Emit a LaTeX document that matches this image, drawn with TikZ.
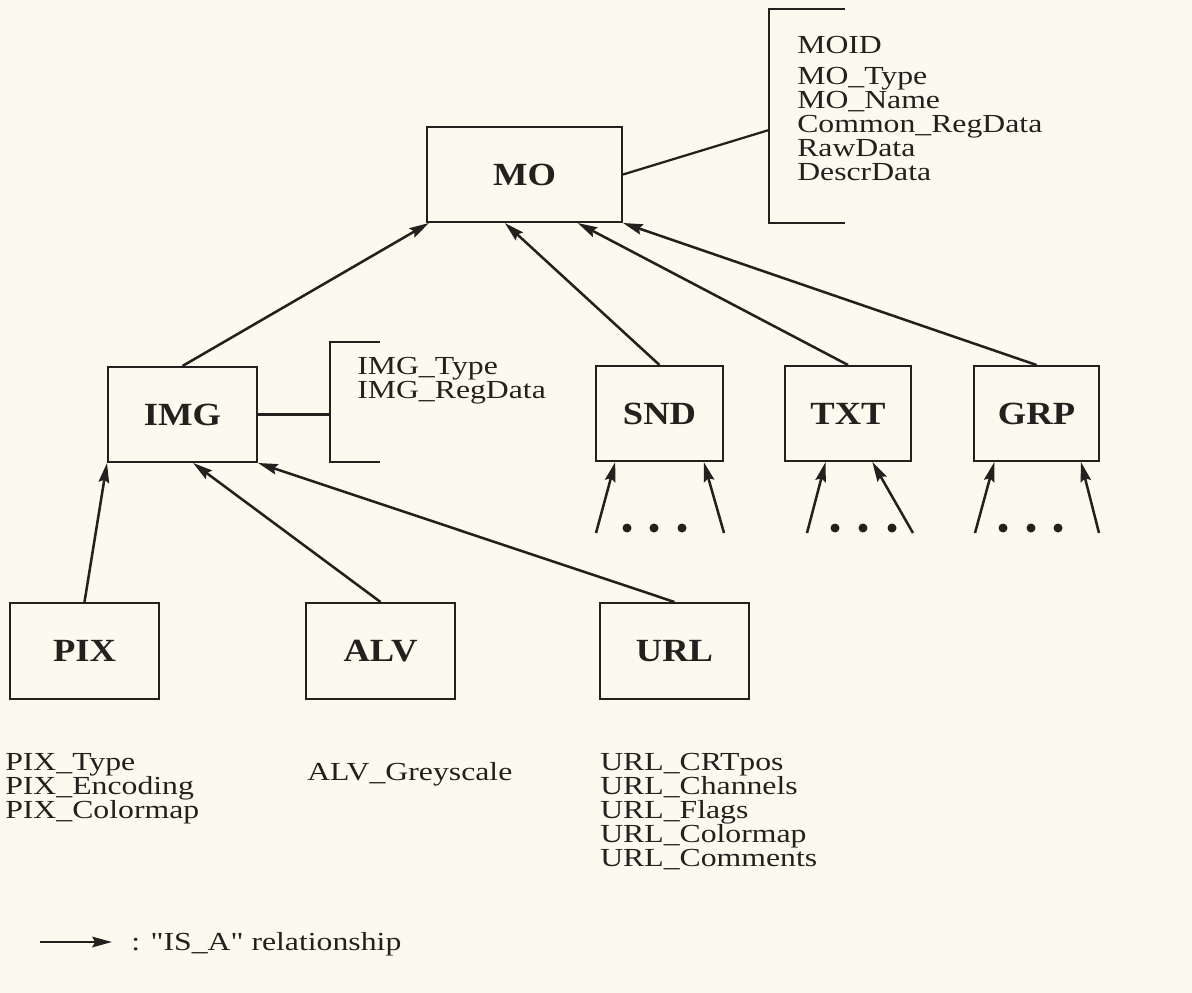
\documentclass[tikz,border=0pt]{standalone}
\usepackage{fontspec}
\setmainfont{Liberation Serif}
\newfontfamily\attrfont[FakeStretch=1.22]{Liberation Serif}
\newfontfamily\labfont[FakeStretch=1.13]{Liberation Serif}
\usetikzlibrary{arrows.meta,calc}
\definecolor{paper}{RGB}{250,250,238}
\definecolor{ink}{RGB}{35,33,30}
\begin{document}
\begin{tikzpicture}[x=0.025cm,y=-0.025cm,
  box/.style={draw=ink, line width=1.4pt, inner sep=0pt, minimum height=2.375cm,
    font=\labfont\bfseries\fontsize{23}{25}\selectfont, text=ink},
  isa/.style={draw=ink, line width=1.8pt, -{Stealth[length=14pt,width=7.5pt,inset=2pt]}},
  link/.style={draw=ink, line width=1.6pt},
  attr/.style={anchor=base west, inner sep=0pt, font=\attrfont\fontsize{18.5}{20}\selectfont, text=ink},
  dot/.style={fill=ink}]
\fill[paper] (0,0) rectangle (1192,993);
\useasboundingbox (0,0) rectangle (1192,993);

% boxes
\node[box, minimum width=4.875cm] (MO)  at (524.5,174.5) {MO};
\node[box, minimum width=3.725cm] (IMG) at (182.5,414.5) {IMG};
\node[box, minimum width=3.175cm] (SND) at (659.5,413.5) {SND};
\node[box, minimum width=3.15cm]  (TXT) at (848,413.5) {TXT};
\node[box, minimum width=3.125cm] (GRP) at (1036.5,413.5) {GRP};
\node[box, minimum width=3.725cm, minimum height=2.4cm] (PIX) at (84.5,651) {PIX};
\node[box, minimum width=3.725cm, minimum height=2.4cm] (ALV) at (380.5,651) {ALV};
\node[box, minimum width=3.725cm, minimum height=2.4cm] (URL) at (674.5,651) {URL};

% MO attributes bracket
\draw[link] (845,9) -- (769,9) -- (769,223) -- (845,223);
\coordinate (MOb) at (769,130);
\draw[link] (MO.east) -- (MOb);
\node[attr] (moid) at (797,53) {MOID};
\node[attr] (motype) at (797,84) {MO\_Type};
\node[attr] (moname) at (797,108) {MO\_Name};
\node[attr] (moreg) at (797,132) {Common\_RegData};
\node[attr] (moraw) at (797,156) {RawData};
\node[attr] (modescr) at (797,180) {DescrData};

% IMG attributes bracket
\draw[link] (380,342) -- (330,342) -- (330,462) -- (380,462);
\coordinate (IMGb) at (330,414.5);
\draw[link] (IMG.east) -- (IMGb);
\node[attr] (imgtype) at (357,374) {IMG\_Type};
\node[attr] (imgreg) at (357,398) {IMG\_RegData};

% IS_A arrows to MO
\draw[isa] (IMG.north) -- ($(MO.south west)!0.015!(MO.south east)$);
\draw[isa] (SND.north) -- ($(MO.south west)!0.40!(MO.south east)$);
\draw[isa] (TXT.north) -- ($(MO.south west)!0.77!(MO.south east)$);
\draw[isa] (GRP.north) -- ($(MO.south west)!1.0!(MO.south east)$);

% IS_A arrows to IMG
\draw[isa] (PIX.north) -- ($(IMG.south west)!0.0!(IMG.south east)$);
\draw[isa] (ALV.north) -- ($(IMG.south west)!0.57!(IMG.south east)$);
\draw[isa] (URL.north) -- ($(IMG.south west)!1.0!(IMG.south east)$);

% open-ended arrows under SND, TXT, GRP
\coordinate (s1) at (596,533);  \coordinate (s2) at (724,533);
\coordinate (t1) at (807,533);  \coordinate (t2) at (913,533);
\coordinate (g1) at (975,533);  \coordinate (g2) at (1099,533);
\draw[isa] (s1) -- ($(SND.south west)!0.157!(SND.south east)$);
\draw[isa] (s2) -- ($(SND.south west)!0.843!(SND.south east)$);
\draw[isa] (t1) -- ($(TXT.south west)!0.325!(TXT.south east)$);
\draw[isa] (t2) -- ($(TXT.south west)!0.69!(TXT.south east)$);
\draw[isa] (g1) -- ($(GRP.south west)!0.168!(GRP.south east)$);
\draw[isa] (g2) -- ($(GRP.south west)!0.85!(GRP.south east)$);
\foreach \x in {627,654,682,835,863,892,1003,1031,1058}
  \fill[dot] (\x,528) circle[radius=3.2pt];

% leaf attributes
\node[attr] (pix1) at (5,770) {PIX\_Type};
\node[attr] (pix2) at (5,794) {PIX\_Encoding};
\node[attr] (pix3) at (5,818) {PIX\_Colormap};
\node[attr] (alv1) at (307,780) {ALV\_Greyscale};
\node[attr] (url1) at (600,770) {URL\_CRTpos};
\node[attr] (url2) at (600,794) {URL\_Channels};
\node[attr] (url3) at (600,818) {URL\_Flags};
\node[attr] (url4) at (600,842) {URL\_Colormap};
\node[attr] (url5) at (600,866) {URL\_Comments};

% legend
\coordinate (lg0) at (40,942);
\coordinate (lg1) at (112,942);
\draw[isa] (lg0) -- (lg1);
\node[attr] (legend) at (131,950) {: "IS\_A" relationship};
\end{tikzpicture}
\end{document}
